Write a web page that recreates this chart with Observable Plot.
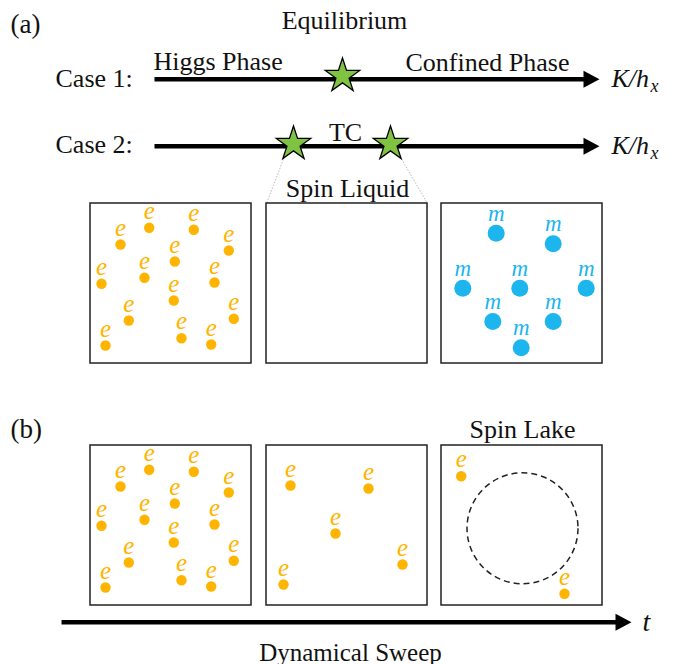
<!DOCTYPE html>
<html><head><meta charset="utf-8">
<script src="https://cdn.jsdelivr.net/npm/d3@7"></script>
<script src="https://cdn.jsdelivr.net/npm/@observablehq/plot@0.6"></script>
<style>body{margin:0;background:#fff}</style>
</head><body><div id="chart"></div>
<script>
// ---- data (diagram units) ----
const boxIds = ["a1", "a2", "a3", "b1", "b2", "b3"];
const boxLeft = [90, 266, 441, 90, 266, 441];
const boxTop = [203, 203, 203, 445, 445, 445];

// particle positions inside a box (local units)
const eDenseX = [30, 58.7, 103.3, 138.3, 84.3, 54, 11, 124, 83.3, 38.3, 143.3, 15, 91, 120.7];
const eDenseY = [41, 24.3, 26.3, 47, 58, 74.3, 80.3, 79, 97, 117, 115.3, 142, 134.7, 141];
const eSparseX = [24, 102, 69, 136, 17];
const eSparseY = [40, 43, 88, 119, 139];
const eLakeX = [19.7, 123];
const eLakeY = [30.7, 148.3];
const mX = [54.7, 111.7, 21.3, 78.3, 144.7, 51.3, 111.7, 79.7];
const mY = [29.7, 40.3, 84.7, 84.7, 84.7, 118, 118, 144.3];
const lakeCenterX = [81];
const lakeCenterY = [82.8];

const arrowStartX = [154, 154, 61];
const arrowTipX = [599, 599, 631];
const arrowY = [78.7, 145.7, 621.7];

const starX = [342, 293, 390];
const starY = [75.5, 143.5, 143.5];

const linkFrom = [[284, 156], [399.5, 156]];
const linkTo = [[266, 203], [427, 203]];

// left-anchored labels
const startText = ["(a)", "Case 1:", "Higgs Phase", "Confined Phase", "Case 2:", "(b)"];
const startX = [10, 55, 153, 405, 55, 10];
const startY = [32, 86, 69, 70, 152, 437];
// centred labels
const midText = ["Equilibrium", "TC", "Spin Liquid", "Spin Lake", "Dynamical Sweep"];
const midX = [344, 345, 347, 522, 350];
const midY = [28, 140, 196, 437, 660];

const mathMain = ["K/h", "K/h", "t"];
const mathX = [611, 611, 642];
const mathY = [86, 153, 630];
const subText = ["x", "x"];
const subX = [650, 650];
const subY = [91, 158];

// ---- build tables ----
const boxes = boxIds.map((id, i) => ({id, x: boxLeft[i], y: boxTop[i]}));
const B = Object.fromEntries(boxes.map(b => [b.id, b]));
const place = (id, xs, ys, kind) => xs.map((x, i) => ({x: B[id].x + x, y: B[id].y + ys[i], kind}));
const eParticles = [
  ...place("a1", eDenseX, eDenseY, "e"),
  ...place("b1", eDenseX, eDenseY, "e"),
  ...place("b2", eSparseX, eSparseY, "e"),
  ...place("b3", eLakeX, eLakeY, "e")
];
const mParticles = place("a3", mX, mY, "m");
const lake = place("b3", lakeCenterX, lakeCenterY, "lake");
const arrows = arrowStartX.map((x, i) => ({x1: x, x2: arrowTipX[i], y: arrowY[i]}));
const stars = starX.map((x, i) => ({x, y: starY[i]}));
const links = linkFrom.map((f, i) => ({x1: f[0], y1: f[1], x2: linkTo[i][0], y2: linkTo[i][1]}));
const startLabels = startText.map((t, i) => ({t, x: startX[i], y: startY[i]}));
const midLabels = midText.map((t, i) => ({t, x: midX[i], y: midY[i]}));
const maths = mathMain.map((t, i) => ({t, x: mathX[i], y: mathY[i]}));
const subs = subText.map((t, i) => ({t, x: subX[i], y: subY[i]}));

const ORANGE = "#FFB400", BLUE = "#1CB5EE", GREEN = "#80C342";
const arrowHead = {draw(ctx) { ctx.moveTo(0, 0); ctx.lineTo(-16, -8.5); ctx.lineTo(-16, 8.5); ctx.closePath(); }};
const serif = "Liberation Serif";

const chart = Plot.plot({
  width: 680, height: 664,
  margin: 0,
  x: {domain: [0, 680], range: [0, 680], axis: null},
  y: {domain: [0, 664], range: [0, 664], axis: null},
  style: {background: "white", fontFamily: serif},
  marks: [
    Plot.link(arrows, {x1: "x1", x2: d => d.x2 - 14, y1: "y", y2: "y", stroke: "black", strokeWidth: 4.5}),
    Plot.dot(arrows, {x: "x2", y: "y", symbol: arrowHead, fill: "black", stroke: "none"}),
    Plot.link(links, {x1: "x1", y1: "y1", x2: "x2", y2: "y2", stroke: "#bbb", strokeWidth: 1, strokeDasharray: "1.5,1.5"}),
    Plot.dot(stars, {x: "x", y: "y", symbol: "star", r: 10.8, fill: GREEN, stroke: "black", strokeWidth: 1.3}),
    Plot.rect(boxes, {x1: "x", x2: d => d.x + 161, y1: "y", y2: d => d.y + 160, fill: "white", stroke: "#222", strokeWidth: 1.5}),
    Plot.dot(lake, {x: "x", y: "y", r: 55.5, stroke: "#222", strokeWidth: 1.5, strokeDasharray: "6,4", fill: "none"}),
    Plot.dot(eParticles, {x: "x", y: "y", r: 5.2, fill: ORANGE, stroke: "none"}),
    Plot.text(eParticles, {x: "x", y: "y", text: "kind", dy: -9, lineAnchor: "bottom", fontSize: 25, fontStyle: "italic", fill: ORANGE}),
    Plot.dot(mParticles, {x: "x", y: "y", r: 8.5, fill: BLUE, stroke: "none"}),
    Plot.text(mParticles, {x: "x", y: "y", text: "kind", dy: -12.5, lineAnchor: "bottom", fontSize: 23, fontStyle: "italic", fill: BLUE}),
    Plot.text(startLabels, {x: "x", y: "y", text: "t", textAnchor: "start", lineAnchor: "bottom", fontSize: d => d.t.startsWith("(") ? 27 : 26, fill: "#111"}),
    Plot.text(midLabels, {x: "x", y: "y", text: "t", textAnchor: "middle", lineAnchor: "bottom", fontSize: d => d.t === "Dynamical Sweep" ? 25 : 26, fill: "#111"}),
    Plot.text(maths, {x: "x", y: "y", text: "t", textAnchor: "start", lineAnchor: "bottom", fontSize: d => d.t === "t" ? 28 : 26, fontStyle: "italic", fill: "#111"}),
    Plot.text(subs, {x: "x", y: "y", text: "t", textAnchor: "start", lineAnchor: "bottom", fontSize: 18, fontStyle: "italic", fill: "#111"})
  ]
});
document.getElementById("chart").appendChild(chart);
</script>
</body></html>
